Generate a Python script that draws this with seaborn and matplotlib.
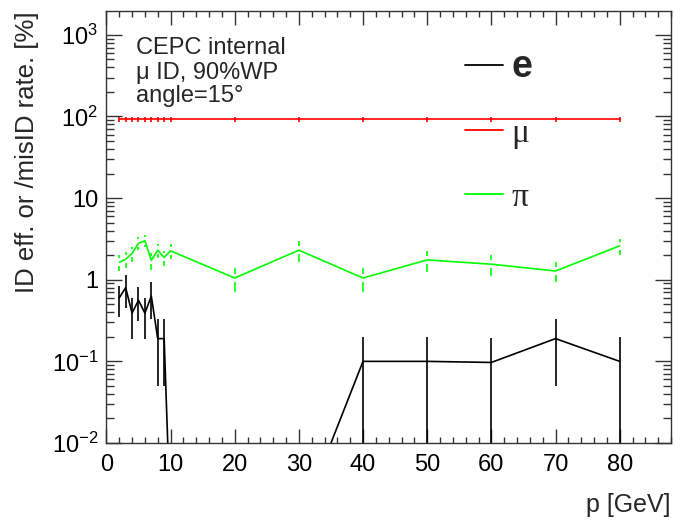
import numpy as np
import pandas as pd
import matplotlib
matplotlib.use("Agg")
import matplotlib.pyplot as plt
import matplotlib.ticker as mticker
import seaborn as sns

# ---------------- data ----------------
p = [2, 3, 4, 5, 6, 7, 8, 9, 10, 20, 30, 40, 50, 60, 70, 80]
e_val = [0.60, 0.80, 0.39, 0.56, 0.39, 0.63, 0.19, 0.19, 0.0, 0.0, 0.0, 0.10, 0.10, 0.097, 0.19, 0.10]
e_err = [0.25, 0.35, 0.20, 0.25, 0.20, 0.30, 0.14, 0.14, 0.0, 0.0, 0.0, 0.10, 0.10, 0.097, 0.14, 0.10]
mu_val = [92, 92, 92, 92, 92, 92, 92, 92, 92, 92, 92, 92, 92, 92, 92, 92]
mu_err = [6, 6, 6, 6, 6, 6, 6, 6, 6, 6, 6, 6, 6, 6, 6, 6]
pi_val = [1.64, 1.78, 2.1, 2.8, 3.0, 1.73, 2.3, 1.88, 2.26, 1.05, 2.3, 1.05, 1.75, 1.55, 1.28, 2.6]
pi_err = [0.35, 0.40, 0.45, 0.50, 0.50, 0.40, 0.45, 0.40, 0.45, 0.35, 0.65, 0.35, 0.50, 0.45, 0.35, 0.60]

labels = ["e", "\u03bc", "\u03c0"]
colors = {"e": "#000000", "\u03bc": "#ff0000", "\u03c0": "#00ff00"}
LOG_FLOOR = 1e-3   # zero entries drawn at this floor on the log axis (ROOT-like)
GAP = 10 ** (4 / 82)  # ROOT-style gap in error bars around the point

# ---------------- style ----------------
sns.set_style("ticks")
plt.rcParams["font.family"] = ["Liberation Sans", "DejaVu Sans"]
plt.rcParams["mathtext.fontset"] = "custom"
plt.rcParams["mathtext.rm"] = "Liberation Sans"
plt.rcParams["mathtext.it"] = "Liberation Sans:italic"
plt.rcParams["mathtext.bf"] = "Liberation Sans:bold"

fig = plt.figure(figsize=(6.74, 5.2), dpi=100)
ax = fig.add_axes([106.4 / 674, 1 - 443 / 520, (671 - 106.4) / 674, 432 / 520])

series = [(labels[0], e_val, e_err, False), (labels[1], mu_val, mu_err, False),
          (labels[2], pi_val, pi_err, True)]
rows = []
for name, vals, errs, _ in series:
    for x, v in zip(p, vals):
        rows.append({"p": x, "val": max(v, LOG_FLOOR), "particle": name})
df = pd.DataFrame(rows)

sns.lineplot(data=df, x="p", y="val", hue="particle", hue_order=labels,
             palette=colors, linewidth=1.2, ax=ax, legend=True, estimator=None)

for name, vals, errs, gap in series:
    vals = np.array(vals, dtype=float)
    errs = np.array(errs, dtype=float)
    xs = np.array(p, dtype=float)
    m = errs > 0
    lo = np.maximum(vals[m] - errs[m], 1e-9)
    hi = vals[m] + errs[m]
    if gap:
        ax.vlines(xs[m], lo, vals[m] / GAP, colors=colors[name], linewidth=1.2)
        ax.vlines(xs[m], vals[m] * GAP, hi, colors=colors[name], linewidth=1.2)
    else:
        ax.vlines(xs[m], lo, hi, colors=colors[name], linewidth=1.2)

ax.set_yscale("log")
ax.set_xlim(0, 88)
ax.set_ylim(1e-2, 1960)

# ticks
ax.xaxis.set_major_locator(mticker.MultipleLocator(10))
ax.xaxis.set_minor_locator(mticker.MultipleLocator(2))
ax.yaxis.set_major_locator(mticker.LogLocator(base=10, numticks=10))
ax.yaxis.set_minor_locator(mticker.LogLocator(base=10, subs=np.arange(2, 10), numticks=20))
ax.yaxis.set_minor_formatter(mticker.NullFormatter())

def yfmt(v, pos):
    e = int(round(np.log10(v)))
    if e == 0:
        return "1"
    if e == 1:
        return "10"
    return r"$\mathregular{10^{%d}}$" % e

ax.yaxis.set_major_formatter(mticker.FuncFormatter(yfmt))

tick_col = "#333333"
ax.tick_params(axis="both", which="both", direction="in", top=True, right=True,
               colors=tick_col, labelcolor="black", labelsize=17)
ax.tick_params(axis="x", which="major", length=10, width=1.0, pad=8)
ax.tick_params(axis="x", which="minor", length=4, width=1.0)
ax.tick_params(axis="y", which="major", length=11.5, width=1.0, pad=6)
ax.tick_params(axis="y", which="minor", length=6, width=1.0)
for s in ax.spines.values():
    s.set_color(tick_col)
    s.set_linewidth(1.0)

ax.set_xlabel("p [GeV]", fontsize=18, loc="right")
ax.set_ylabel("ID eff. or /misID rate. [%]", fontsize=18.5, loc="top")
ax.xaxis.set_label_coords(1.0, -0.116)
ax.yaxis.set_label_coords(-0.12, 1.0)

# legend
leg = ax.legend(loc="upper left", bbox_to_anchor=(465 / 674, 1 - 49 / 520),
                bbox_transform=fig.transFigure, frameon=False, fontsize=24,
                handlelength=1.15, handletextpad=0.25, labelspacing=1.0,
                borderpad=0, borderaxespad=0, title=None)
for line in leg.get_lines():
    line.set_linewidth(1.3)
texts = leg.get_texts()
texts[0].set_fontweight("bold")
texts[0].set_fontsize(27)
for t in texts[1:]:
    t.set_fontfamily(["Liberation Serif", "DejaVu Serif"])

# annotation text
for txt, yb in [("CEPC internal", 54.3), ("\u03bc ID, 90%WP", 78.5), ("angle=15\u00b0", 102.0)]:
    fig.text(136.0 / 674, 1 - yb / 520, txt, fontsize=17, va="baseline", ha="left")

fig.savefig("out.png", dpi=100)
